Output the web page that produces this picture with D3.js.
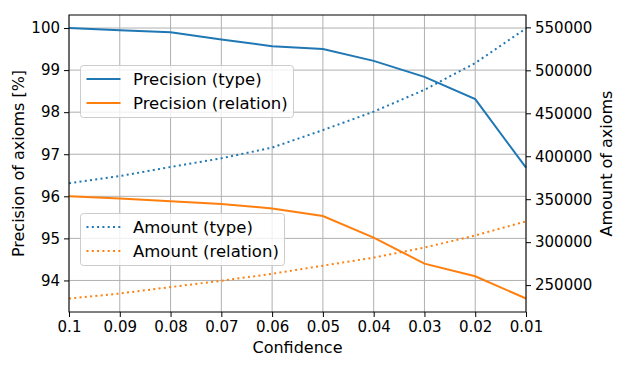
<!DOCTYPE html>
<html>
<head>
<meta charset="utf-8">
<script src="https://cdn.jsdelivr.net/npm/d3@7"></script>
<style>
  body { margin: 0; background: #fff; }
  text { font-family: "DejaVu Sans", sans-serif; }
</style>
</head>
<body>
<div id="chart"></div>
<script>
// confidence thresholds
const confidence = [0.1, 0.09, 0.08, 0.07, 0.06, 0.05, 0.04, 0.03, 0.02, 0.01];
const xTickLabels = ['0.1', '0.09', '0.08', '0.07', '0.06', '0.05', '0.04', '0.03', '0.02', '0.01'];

// left axis, percent
const precisionType = [100.0, 99.95, 99.9, 99.73, 99.57, 99.5, 99.22, 98.84, 98.31, 96.68];
const precisionRelation = [96.0, 95.95, 95.88, 95.82, 95.71, 95.53, 95.02, 94.4, 94.1, 93.57];

// right axis, number of axioms
const amountType = [368500, 376900, 387500, 397600, 410100, 430400, 451900, 477300, 508500, 548800];
const amountRelation = [234300, 240200, 247700, 255000, 263200, 272600, 282000, 293700, 307800, 324200];

const leftTicks = [94, 95, 96, 97, 98, 99, 100];
const rightTicks = [250000, 300000, 350000, 400000, 450000, 500000, 550000];

const width = 624, height = 366;
const margin = { top: 15, right: 98, bottom: 54, left: 69 };
const blue = '#1f77b4', orange = '#ff7f0e';

const svg = d3.select('#chart')
  .append('svg')
  .attr('width', width)
  .attr('height', height);

const x = d3.scaleLinear()
  .domain([0.1, 0.01])
  .range([margin.left, width - margin.right]);

const yLeft = d3.scaleLinear()
  .domain([93.25, 100.31])
  .range([height - margin.bottom, margin.top]);

const yRight = d3.scaleLinear()
  .domain([218700, 564400])
  .range([height - margin.bottom, margin.top]);

// grid
const grid = svg.append('g').attr('stroke', '#b0b0b0').attr('stroke-width', 1);
grid.selectAll('.vx')
  .data(confidence)
  .enter()
  .append('line')
  .attr('x1', d => x(d)).attr('x2', d => x(d))
  .attr('y1', margin.top).attr('y2', height - margin.bottom);
grid.selectAll('.hy')
  .data(leftTicks)
  .enter()
  .append('line')
  .attr('x1', margin.left).attr('x2', width - margin.right)
  .attr('y1', d => yLeft(d)).attr('y2', d => yLeft(d));

// lines
const series = [
  { vals: precisionType, y: yLeft, color: blue, dotted: false },
  { vals: precisionRelation, y: yLeft, color: orange, dotted: false },
  { vals: amountType, y: yRight, color: blue, dotted: true },
  { vals: amountRelation, y: yRight, color: orange, dotted: true }
];

series.forEach(s => {
  const line = d3.line()
    .x((d, i) => x(confidence[i]))
    .y(d => s.y(d));
  svg.append('path')
    .datum(s.vals)
    .attr('fill', 'none')
    .attr('stroke', s.color)
    .attr('stroke-width', 2)
    .attr('stroke-dasharray', s.dotted ? '2,3.3' : null)
    .attr('d', line);
});

// axes
const fontSize = '15px';
const xAxis = svg.append('g')
  .attr('transform', `translate(0,${height - margin.bottom})`)
  .call(d3.axisBottom(x).tickValues(confidence).tickFormat((d, i) => xTickLabels[i]).tickSizeOuter(0).tickSize(5).tickPadding(4));

const lAxis = svg.append('g')
  .attr('transform', `translate(${margin.left},0)`)
  .call(d3.axisLeft(yLeft).tickValues(leftTicks).tickFormat(d3.format('d')).tickSizeOuter(0).tickSize(5).tickPadding(4));

const rAxis = svg.append('g')
  .attr('transform', `translate(${width - margin.right},0)`)
  .call(d3.axisRight(yRight).tickValues(rightTicks).tickFormat(d3.format('d')).tickSizeOuter(0).tickSize(5).tickPadding(4));

[xAxis, lAxis, rAxis].forEach(a => {
  a.select('.domain').remove();
  a.selectAll('text').attr('font-size', fontSize).attr('fill', '#000').attr('font-family', '"DejaVu Sans", sans-serif');
  a.selectAll('line').attr('stroke', '#000').attr('stroke-width', 1);
});

// frame
svg.append('rect')
  .attr('x', margin.left).attr('y', margin.top)
  .attr('width', width - margin.left - margin.right)
  .attr('height', height - margin.top - margin.bottom)
  .attr('fill', 'none').attr('stroke', '#000').attr('stroke-width', 1);

// axis titles
svg.append('text')
  .attr('x', (margin.left + width - margin.right) / 2)
  .attr('y', 353)
  .attr('text-anchor', 'middle')
  .attr('font-size', '16px')
  .text('Confidence');

svg.append('text')
  .attr('transform', `translate(24,${(margin.top + height - margin.bottom) / 2}) rotate(-90)`)
  .attr('text-anchor', 'middle')
  .attr('font-size', '16px')
  .text('Precision of axioms [%]');

svg.append('text')
  .attr('transform', `translate(612,${(margin.top + height - margin.bottom) / 2}) rotate(-90)`)
  .attr('text-anchor', 'middle')
  .attr('font-size', '16px')
  .text('Amount of axioms');

// legends
function legend(items, x0, y0, w) {
  const g = svg.append('g').attr('transform', `translate(${x0},${y0})`);
  g.append('rect')
    .attr('width', w).attr('height', 52).attr('rx', 3)
    .attr('fill', '#fff').attr('fill-opacity', 0.8)
    .attr('stroke', '#ccc').attr('stroke-width', 1);
  items.forEach((it, i) => {
    const cy = 13.5 + i * 24;
    g.append('line')
      .attr('x1', 6).attr('x2', 40).attr('y1', cy).attr('y2', cy)
      .attr('stroke', it.color).attr('stroke-width', 2)
      .attr('stroke-dasharray', it.dotted ? '2,3.3' : null);
    g.append('text')
      .attr('x', 52.5).attr('y', cy + 5.5)
      .attr('font-size', '16.5px')
      .text(it.label);
  });
}

legend([
  { label: 'Precision (type)', color: blue, dotted: false },
  { label: 'Precision (relation)', color: orange, dotted: false }
], 80.5, 65.5, 213);

legend([
  { label: 'Amount (type)', color: blue, dotted: true },
  { label: 'Amount (relation)', color: orange, dotted: true }
], 80.5, 213.5, 204);
</script>
</body>
</html>
